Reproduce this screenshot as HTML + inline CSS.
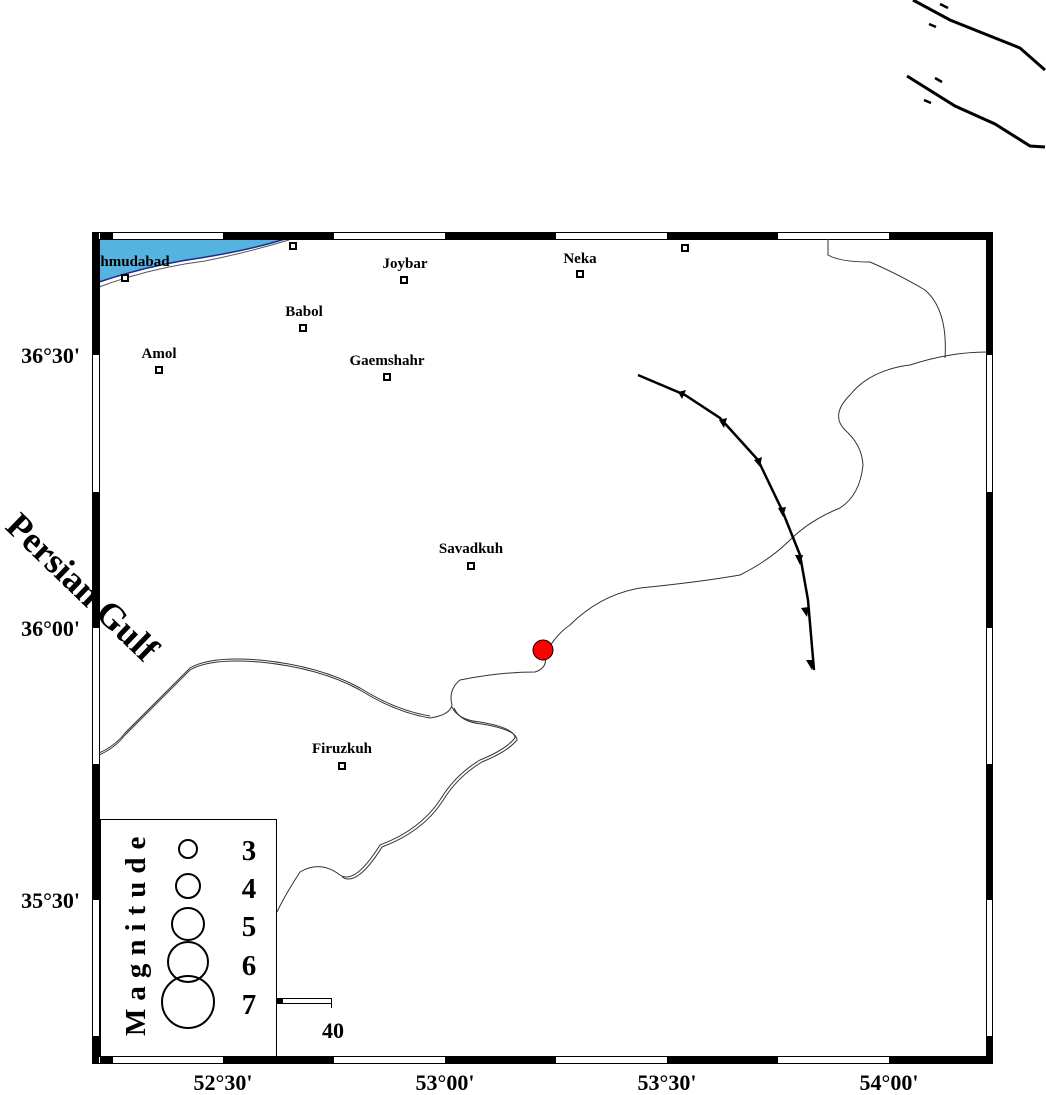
<!DOCTYPE html>
<html><head><meta charset="utf-8"><style>
body{margin:0;background:#fff}
svg{display:block}
text{font-family:"Liberation Serif",serif;font-weight:bold}
</style></head><body>
<svg width="1046" height="1095" viewBox="0 0 1046 1095" xmlns="http://www.w3.org/2000/svg">
<g fill="none" stroke="#000" stroke-width="3">
<path d="M913 0 L950 20 L990 36 L1020 48 L1045 70"/>
<path d="M907 76 L955 106 L995 124 L1030 146 L1045 147"/>
</g>
<g stroke="#000" stroke-width="2.5"><path d="M940 4 L948 8"/><path d="M929 24 L936 27"/><path d="M935 78 L942 82"/><path d="M924 100 L931 103"/></g>
<path d="M99 239 L285 239 Q250 250 200 258 Q150 265 99 282 Z" fill="#56b3e0"/>
<path d="M99 282 Q150 265 200 258 Q250 250 285 239" fill="none" stroke="#1a2a90" stroke-width="1.5"/>
<path d="M99 287 Q150 268 205 261 Q250 252 292 239" fill="none" stroke="#555" stroke-width="1"/>
<rect x="92.5" y="232.5" width="900" height="831" fill="none" stroke="#000"/>
<rect x="99.5" y="239.5" width="887" height="817" fill="none" stroke="#000"/>
<g fill="#000">
<rect x="100" y="233" width="13" height="6"/><rect x="223" y="233" width="111" height="6"/><rect x="445" y="233" width="111" height="6"/><rect x="667" y="233" width="111" height="6"/><rect x="889" y="233" width="98" height="6"/>
<rect x="100" y="1057" width="13" height="6"/><rect x="223" y="1057" width="111" height="6"/><rect x="445" y="1057" width="111" height="6"/><rect x="667" y="1057" width="111" height="6"/><rect x="889" y="1057" width="98" height="6"/>
<rect x="93" y="233" width="6" height="122"/><rect x="93" y="492" width="6" height="136"/><rect x="93" y="764" width="6" height="136"/><rect x="93" y="1036" width="6" height="27"/>
<rect x="987" y="233" width="6" height="122"/><rect x="987" y="492" width="6" height="136"/><rect x="987" y="764" width="6" height="136"/><rect x="987" y="1036" width="6" height="27"/>
</g>
<g fill="none" stroke="#333" stroke-width="1">
<path d="M99 755 Q115 748 125 735 Q160 700 190 670 Q210 658 260 662 Q320 668 360 690 Q395 712 430 718 Q450 715 452 705 Q448 690 460 680 Q500 672 535 672 Q548 668 545 655 Q555 635 570 625 Q600 595 640 588 Q700 582 740 575 Q770 560 790 540 Q810 520 840 508 Q860 495 863 465 Q862 445 845 430 Q830 415 850 395 Q870 370 910 365 Q950 352 987 352"/>
<path d="M99 753 Q115 746 125 733 Q160 698 190 668 Q210 656 260 660 Q320 666 360 688 Q395 710 430 716"/>
<path d="M452 707 Q458 720 480 722 Q515 728 515 738 Q505 750 480 760 Q455 775 440 800 Q420 830 380 845 Q355 885 340 875 Q320 860 300 872 Q285 895 277 912"/>
<path d="M454 708 Q460 722 482 724 Q517 730 517 740 Q507 752 482 762 Q457 777 442 802 Q422 832 382 847 Q357 887 342 877"/>
<path d="M828 239 L828 255 Q840 262 870 262 Q900 275 925 290 Q948 310 945 358"/>
</g>
<path d="M638 375 L685 395 L720 418 L758 460 L782 510 L800 555 L808 600 L814 670" fill="none" stroke="#000" stroke-width="2.5"/>
<g fill="#000">
<path d="M678 392 L686 390 L682 399Z"/><path d="M719 420 L727 418 L724 428Z"/><path d="M754 460 L762 457 L760 467Z"/><path d="M778 508 L786 507 L783 517Z"/><path d="M795 555 L803 555 L800 565Z"/><path d="M801 608 L809 607 L807 617Z"/><path d="M806 660 L814 660 L812 670Z"/>
</g>
<circle cx="543" cy="650" r="10" fill="#ff0000" stroke="#000" stroke-width="1"/>
<g fill="#fff" stroke="#000" stroke-width="2">
<rect x="122" y="275" width="6" height="6"/><rect x="290" y="243" width="6" height="6"/><rect x="401" y="277" width="6" height="6"/><rect x="577" y="271" width="6" height="6"/><rect x="682" y="245" width="6" height="6"/>
<rect x="300" y="325" width="6" height="6"/><rect x="156" y="367" width="6" height="6"/><rect x="384" y="374" width="6" height="6"/><rect x="468" y="563" width="6" height="6"/><rect x="339" y="763" width="6" height="6"/>
</g>
<g font-size="15" text-anchor="middle">
<text x="135" y="266">hmudabad</text><text x="405" y="268">Joybar</text><text x="580" y="263">Neka</text>
<text x="304" y="316">Babol</text><text x="159" y="358">Amol</text><text x="387" y="365">Gaemshahr</text>
<text x="471" y="553">Savadkuh</text><text x="342" y="753">Firuzkuh</text>
</g>
<g font-size="22" text-anchor="middle">
<text x="223" y="1090">52°30'</text><text x="445" y="1090">53°00'</text><text x="667" y="1090">53°30'</text><text x="889" y="1090">54°00'</text>
</g>
<g font-size="22" text-anchor="end">
<text x="80" y="363">36°30'</text><text x="80" y="636">36°00'</text><text x="80" y="908">35°30'</text>
</g>
<text x="0" y="0" font-size="36" transform="translate(4,528) rotate(44)">Persian Gulf</text>
<rect x="100.5" y="819.5" width="176" height="237" fill="#fff" stroke="#000"/>
<g fill="none" stroke="#000" stroke-width="2">
<circle cx="188" cy="849" r="9"/><circle cx="188" cy="886" r="12"/><circle cx="188" cy="924" r="16"/><circle cx="188" cy="962" r="20"/><circle cx="188" cy="1002" r="26"/>
</g>
<g font-size="29" text-anchor="middle">
<text x="249" y="860">3</text><text x="249" y="898">4</text><text x="249" y="936">5</text><text x="249" y="975">6</text><text x="249" y="1014">7</text>
</g>
<text x="0" y="0" font-size="29" letter-spacing="8" transform="translate(145,1036) rotate(-90)">Magnitude</text>
<rect x="277" y="998" width="5" height="6" fill="#000"/>
<rect x="282.5" y="998.5" width="49" height="5" fill="#fff" stroke="#000"/>
<path d="M331.5 998 L331.5 1008" stroke="#000"/>
<text x="333" y="1038" font-size="22" text-anchor="middle">40</text>
</svg>
</body></html>
